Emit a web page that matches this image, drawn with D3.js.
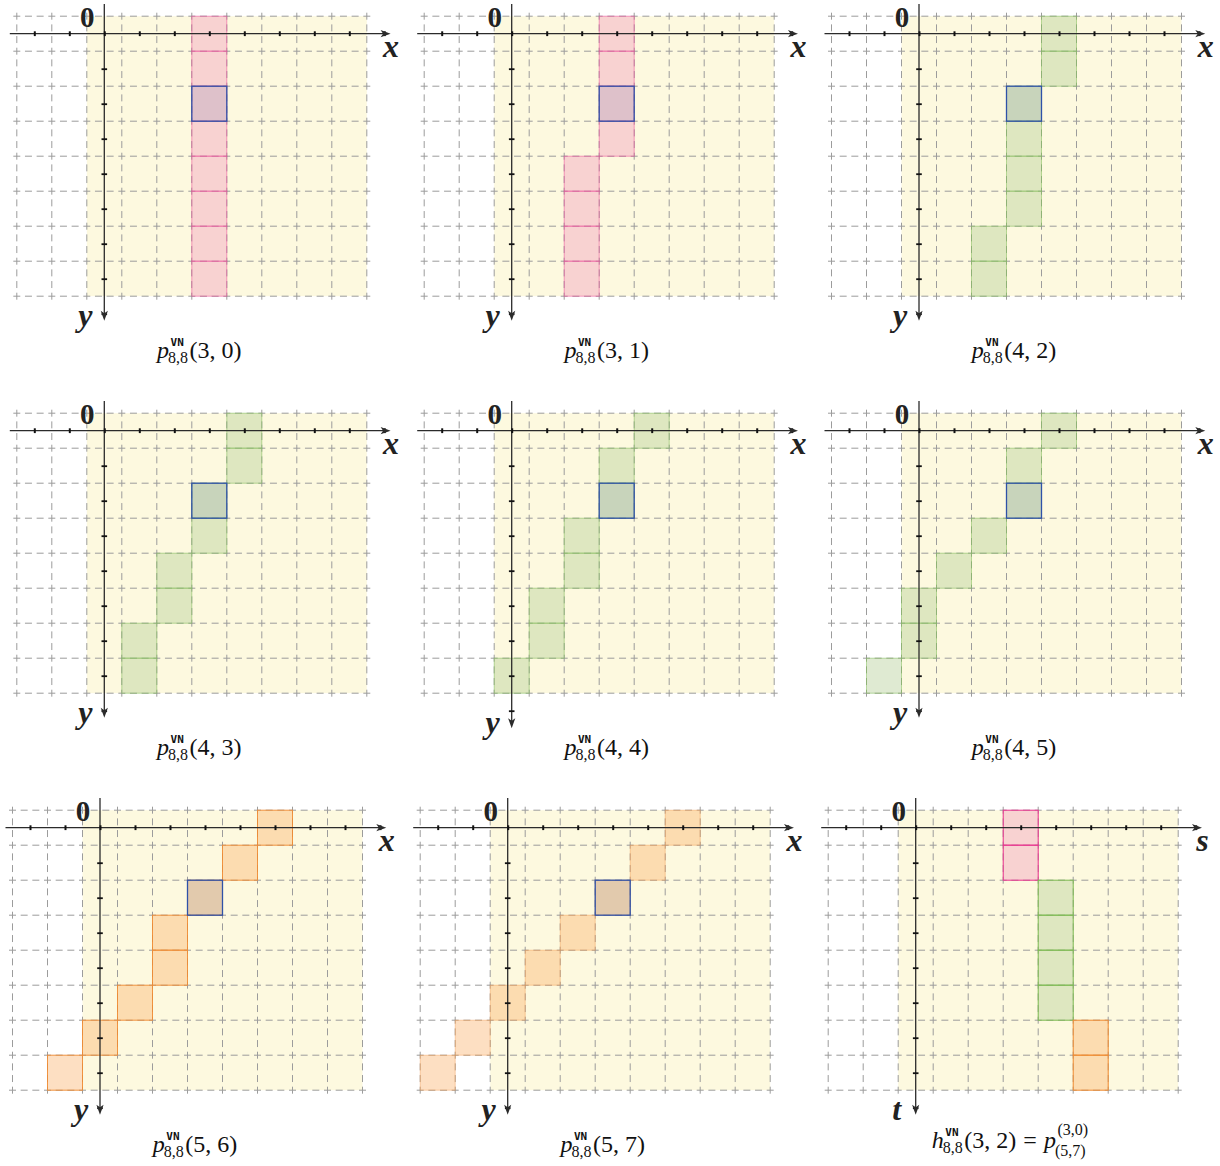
<!DOCTYPE html>
<html>
<head>
<meta charset="utf-8">
<script src="https://cdn.jsdelivr.net/npm/d3@7"></script>
<style>
  body { margin: 0; background: #fff; }
  svg { display: block; }
  .cap-main { font-family: "Liberation Serif", serif; font-size: 24px; fill: #111; }
  .cap-it { font-style: italic; }
  .cap-sub { font-family: "Liberation Serif", serif; font-size: 16px; fill: #111; }
  .cap-tt { font-family: "DejaVu Sans Mono", monospace; font-size: 11px; font-weight: bold; fill: #111; }
  .axis-zero { font-family: "Liberation Serif", serif; font-size: 29px; font-weight: bold; fill: #222; }
  .axis-name { font-family: "Liberation Serif", serif; font-size: 32px; font-weight: bold; font-style: italic; fill: #222; }
</style>
</head>
<body>
<svg id="chart" width="1220" height="1166"></svg>
<script>
// Paths of cells on an 8x8 grid, one panel per path (3x3 layout)

const UNIT = 35;

// column of the filled cell for each row 0..7, one list per panel
const pathCols = [
  [3, 3, 3, 3, 3, 3, 3, 3],
  [3, 3, 3, 3, 2, 2, 2, 2],
  [4, 4, 3, 3, 3, 3, 2, 2],
  [4, 4, 3, 3, 2, 2, 1, 1],
  [4, 3, 3, 2, 2, 1, 1, 0],
  [4, 3, 3, 2, 1, 0, 0, -1],
  [5, 4, 3, 2, 2, 1, 0, -1],
  [5, 4, 3, 2, 1, 0, -1, -2],
  [3, 3, 4, 4, 4, 4, 5, 5]
];

// colour of each panel's cells; the last panel mixes three, row by row
const panelColor = ['pink', 'pink', 'green', 'green', 'green', 'green', 'orange', 'orange', null];
const mixedRowColors = ['pink', 'pink', 'green', 'green', 'green', 'green', 'orange', 'orange'];

// outlined (blue) cell, as [col, row]
const markedCell = [[3, 2], [3, 2], [3, 2], [3, 2], [3, 2], [3, 2], [3, 2], [3, 2], null];

const captionArgs = ['(3, 0)', '(3, 1)', '(4, 2)', '(4, 3)', '(4, 4)', '(4, 5)', '(5, 6)', '(5, 7)'];
const axisNames = [['x', 'y'], ['x', 'y'], ['x', 'y'], ['x', 'y'], ['x', 'y'], ['x', 'y'], ['x', 'y'], ['x', 'y'], ['s', 't']];

const xTickValues = [-2, -1, 0, 1, 2, 3, 4, 5, 6, 7, 8];
const yTickValues = [1, 2, 3, 4, 5, 6, 7, 8];
const gridCols = d3.range(-2.5, 8, 1);   // vertical dashed lines
const gridRows = d3.range(-0.5, 8, 1);   // horizontal dashed lines

// ---- layout (pixels) ----
const panelOrigins = [
  [104.3, 33.7], [511.7, 33.7], [919, 33.7],
  [104.3, 430.7], [511.7, 430.7], [919, 430.7],
  [100, 827.7], [507.7, 827.7], [915.7, 827.7]
];
const yAxisEnd = [8.2, 8.2, 8.2, 8.2, 8.5, 8.2, 8.2, 8.2, 8.2];
const strokeOpacity = [0.45, 0.45, 0.5, 0.5, 0.5, 0.5, 0.9, 0.35, 1];

const fills = {
  pink:   { fill: '#f2a2c0', op: 0.45, stroke: '#e8308c' },
  green:  { fill: '#b8d09b', op: 0.45, stroke: '#7cba50' },
  orange: { fill: '#fab978', op: 0.45, stroke: '#f08a30' }
};

const svg = d3.select('#chart');

function stealth(x0, y0, dir) {
  // arrow tip at (x0,y0); dir 'right' or 'down'
  const L = 10, W = 3.6, N = 2.5;
  if (dir === 'right') {
    return `M${x0},${y0} L${x0 - L},${y0 - W} L${x0 - L + N},${y0} L${x0 - L},${y0 + W} Z`;
  }
  return `M${x0},${y0} L${x0 - W},${y0 - L} L${x0},${y0 - L + N} L${x0 + W},${y0 - L} Z`;
}

function drawCaption(g, pieces, cx, baseline) {
  const cap = g.append('g');
  let cur = 0;
  pieces.forEach(pc => {
    if (pc.text) {
      cur += pc.pad || 0;
      const t = cap.append('text').attr('class', 'cap-main').attr('x', cur).attr('y', 0).text(pc.text);
      cur += t.node().getComputedTextLength() + (pc.pad || 0);
      return;
    }
    const b = cap.append('text').attr('class', 'cap-main cap-it').attr('x', cur).attr('y', 0).text(pc.base);
    cur += b.node().getComputedTextLength();
    const sup = cap.append('text').attr('class', pc.supClass).attr('x', cur + 1.5).attr('y', pc.supY).text(pc.sup);
    const sub = cap.append('text').attr('class', 'cap-sub').attr('x', cur - 1).attr('y', pc.subY).text(pc.sub);
    cur += Math.max(sup.node().getComputedTextLength() + 1.5, sub.node().getComputedTextLength() - 1) + 1.5;
    if (pc.args) {
      const a = cap.append('text').attr('class', 'cap-main').attr('x', cur).attr('y', 0).text(pc.args);
      cur += a.node().getComputedTextLength();
    }
  });
  cap.attr('transform', `translate(${cx - cur / 2},${baseline})`);
}

pathCols.forEach((cols, i) => {
  const [ox, oy] = panelOrigins[i];
  const x = d3.scaleLinear().domain([0, 1]).range([ox, ox + UNIT]);
  const y = d3.scaleLinear().domain([0, 1]).range([oy, oy + UNIT]);
  const g = svg.append('g').attr('class', 'panel');

  // yellow region: the 8x8 board
  g.append('rect')
    .attr('x', x(-0.5)).attr('y', y(-0.5))
    .attr('width', x(7.5) - x(-0.5)).attr('height', y(7.5) - y(-0.5))
    .attr('fill', '#fdf9df');

  // dashed grid, dashes centred on the intersections
  const period = UNIT / 3, dash = 7, gap = period - dash;
  const hx0 = -2.72, hx1 = 7.72, vy0 = -0.7, vy1 = 7.62;
  const offH = ((dash / 2 - (gridCols[0] - hx0) * UNIT) % period + period) % period;
  const offV = ((dash / 2 - (gridRows[0] - vy0) * UNIT) % period + period) % period;
  g.append('g').selectAll('line').data(gridRows).join('line')
    .attr('x1', x(hx0)).attr('x2', x(hx1))
    .attr('y1', d => y(d)).attr('y2', d => y(d))
    .attr('stroke', '#9c9c9c').attr('stroke-width', 1)
    .attr('stroke-dasharray', `${dash} ${gap}`).attr('stroke-dashoffset', offH);
  g.append('g').selectAll('line').data(gridCols).join('line')
    .attr('y1', y(vy0)).attr('y2', y(vy1))
    .attr('x1', d => x(d)).attr('x2', d => x(d))
    .attr('stroke', '#9c9c9c').attr('stroke-width', 1)
    .attr('stroke-dasharray', `${dash} ${gap}`).attr('stroke-dashoffset', offV);

  // path cells
  const cells = cols.map((c, r) => ({ col: c, row: r, color: panelColor[i] || mixedRowColors[r] }));
  g.append('g').selectAll('rect').data(cells).join('rect')
    .attr('x', d => x(d.col - 0.5)).attr('y', d => y(d.row - 0.5))
    .attr('width', UNIT).attr('height', UNIT)
    .attr('fill', d => fills[d.color].fill).attr('fill-opacity', d => fills[d.color].op)
    .attr('stroke', d => fills[d.color].stroke).attr('stroke-opacity', strokeOpacity[i])
    .attr('stroke-width', 1);

  // marked cell
  if (markedCell[i]) {
    const [mc, mr] = markedCell[i];
    g.append('rect')
      .attr('x', x(mc - 0.5)).attr('y', y(mr - 0.5))
      .attr('width', UNIT).attr('height', UNIT)
      .attr('fill', '#2a4a9a').attr('fill-opacity', 0.12)
      .attr('stroke', '#2f52a8').attr('stroke-width', 1.3);
  }

  // axes
  const axisColor = '#2b2b2b';
  const xEnd = 8.18, yEnd = yAxisEnd[i];
  g.append('line').attr('x1', x(-2.7)).attr('x2', x(xEnd) - 6).attr('y1', y(0)).attr('y2', y(0))
    .attr('stroke', axisColor).attr('stroke-width', 1.3);
  g.append('line').attr('y1', y(-0.85)).attr('y2', y(yEnd) - 6).attr('x1', x(0)).attr('x2', x(0))
    .attr('stroke', axisColor).attr('stroke-width', 1.3);

  g.append('g').attr('transform', `translate(0,${y(0)})`)
    .call(d3.axisBottom(x).tickValues(xTickValues).tickSize(0).tickFormat(''))
    .call(a => a.select('.domain').remove())
    .call(a => a.selectAll('.tick line').attr('y1', -2.4).attr('y2', 2.4)
      .attr('stroke', '#111').attr('stroke-width', 2));
  g.append('g').attr('transform', `translate(${x(0)},0)`)
    .call(d3.axisLeft(y).tickValues(yTickValues).tickSize(0).tickFormat(''))
    .call(a => a.select('.domain').remove())
    .call(a => a.selectAll('.tick line').attr('x1', -2.8).attr('x2', 2.8)
      .attr('stroke', '#111').attr('stroke-width', 1.8));

  g.append('path').attr('d', stealth(x(xEnd), y(0), 'right')).attr('fill', axisColor);
  g.append('path').attr('d', stealth(x(0), y(yEnd), 'down')).attr('fill', axisColor);

  // axis labels
  g.append('text').attr('class', 'axis-zero').attr('text-anchor', 'middle')
    .attr('x', x(0) - 17).attr('y', y(0) - 7).text('0');
  g.append('text').attr('class', 'axis-name').attr('text-anchor', 'middle')
    .attr('x', x(xEnd) + 0.5).attr('y', y(0) + 23).text(axisNames[i][0]);
  g.append('text').attr('class', 'axis-name').attr('text-anchor', 'middle')
    .attr('x', x(0) - 19).attr('y', y(yEnd) + 5).text(axisNames[i][1]);

  // caption
  const cx = x(0) + 95;
  if (i < 8) {
    drawCaption(g, [{ base: 'p', sup: 'VN', supClass: 'cap-tt', supY: -12, sub: '8,8', subY: 5, args: captionArgs[i] }],
      cx, y(0) + 324);
  } else {
    drawCaption(g, [
      { base: 'h', sup: 'VN', supClass: 'cap-tt', supY: -12, sub: '8,8', subY: 5, args: '(3, 2)' },
      { text: '=', pad: 7 },
      { base: 'p', sup: '(3,0)', supClass: 'cap-sub', supY: -13, sub: '(5,7)', subY: 8 }
    ], cx, y(0) + 320);
  }
});
</script>
</body>
</html>
